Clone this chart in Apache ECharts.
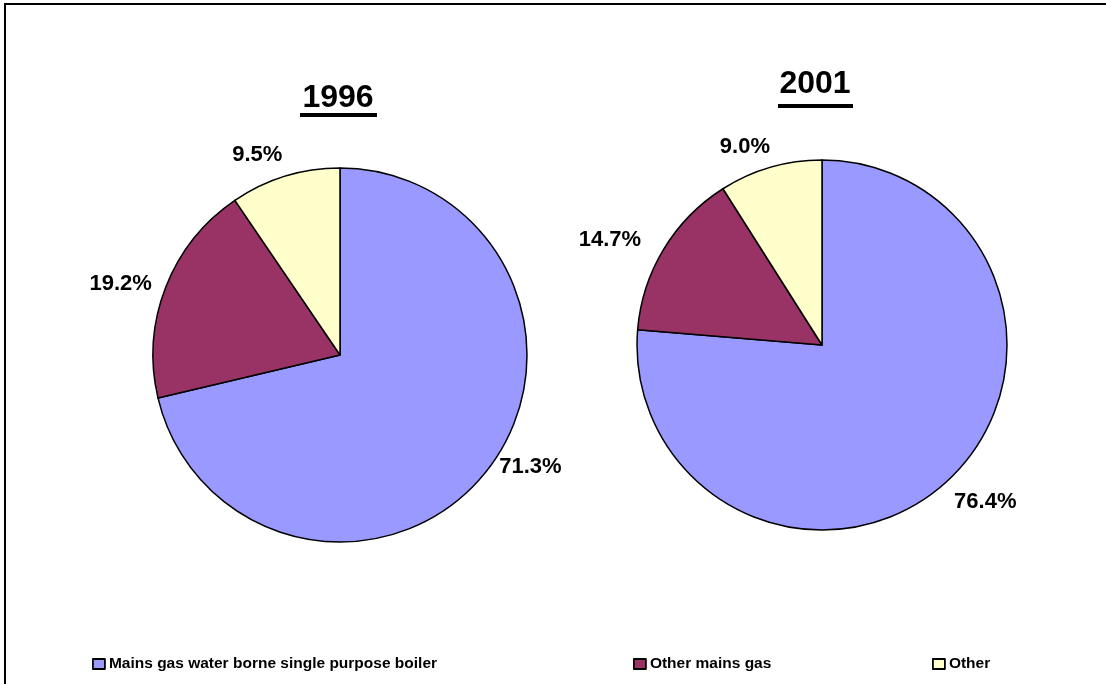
<!DOCTYPE html>
<html>
<head>
<meta charset="utf-8">
<script src="https://cdn.jsdelivr.net/npm/echarts@6/dist/echarts.min.js"></script>
<style>
html,body{margin:0;padding:0;background:#fff;}
#chart{width:1106px;height:684px;}
</style>
</head>
<body>
<div id="chart"></div>
<script>
const categories = ['Mains gas water borne single purpose boiler', 'Other mains gas', 'Other'];
const years = ['1996', '2001'];
const values1996 = [71.3, 19.2, 9.5];
const values2001 = [76.4, 14.7, 9.0];
const colors = ['#9999FF', '#993366', '#FFFFCC'];

// label nudges (style only, in px)
const labelOffsets1996 = [[-7, -14], [8, 2], [9, -6]];
const labelOffsets2001 = [[-11, 9], [-2, -1], [11, -5]];

const chart = echarts.init(document.getElementById('chart'));
const font = 'Liberation Sans, Arial, sans-serif';

function pieSeries(name, vals, offsets, center, radius) {
  return {
    type: 'pie',
    name: name,
    center: center,
    radius: radius,
    startAngle: 90,
    clockwise: true,
    animation: false,
    silent: true,
    data: categories.map((c, i) => ({ name: c, value: vals[i], label: { offset: offsets[i] } })),
    itemStyle: { borderColor: '#000', borderWidth: 1.5 },
    label: {
      show: true,
      position: 'outside',
      formatter: p => p.value.toFixed(1) + '%',
      fontFamily: font,
      fontWeight: 'bold',
      fontSize: 22,
      color: '#000'
    },
    labelLine: { show: false, length: 16, length2: 2 },
    emphasis: { disabled: true }
  };
}

const legendBase = {
  orient: 'horizontal',
  top: 656,
  padding: 0,
  itemWidth: 12,
  itemHeight: 10,
  icon: 'rect',
  selectedMode: false,
  itemStyle: { borderColor: '#000', borderWidth: 1.8 },
  textStyle: { fontFamily: font, fontWeight: 'bold', fontSize: 15.5, color: '#000', padding: [0, 0, 0, -1] }
};

chart.setOption({
  backgroundColor: '#fff',
  color: colors,
  animation: false,
  legend: [
    Object.assign({}, legendBase, { left: 92, data: [categories[0]] }),
    Object.assign({}, legendBase, { left: 633, data: [categories[1]] }),
    Object.assign({}, legendBase, { left: 932, data: [categories[2]] })
  ],
  graphic: [
    { type: 'rect', shape: { x: 5, y: 4, width: 1200, height: 800 }, style: { fill: 'none', stroke: '#000', lineWidth: 2 }, silent: true },
    { type: 'text', style: { x: 338, y: 114, text: years[0], textAlign: 'center', textVerticalAlign: 'bottom', font: 'bold 32px ' + font, fill: '#000' } },
    { type: 'rect', shape: { x: 300, y: 113, width: 77, height: 4 }, style: { fill: '#000' } },
    { type: 'text', style: { x: 815, y: 100, text: years[1], textAlign: 'center', textVerticalAlign: 'bottom', font: 'bold 32px ' + font, fill: '#000' } },
    { type: 'rect', shape: { x: 778, y: 104, width: 75, height: 4 }, style: { fill: '#000' } }
  ],
  series: [
    pieSeries(years[0], values1996, labelOffsets1996, [340, 355], 187),
    pieSeries(years[1], values2001, labelOffsets2001, [822, 345], 185)
  ]
});
</script>
</body>
</html>
